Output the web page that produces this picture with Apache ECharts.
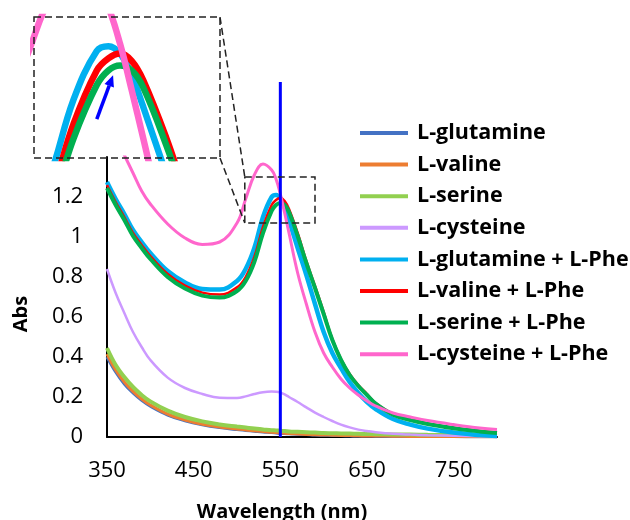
<!DOCTYPE html>
<html>
<head>
<meta charset="utf-8">
<script src="https://cdn.jsdelivr.net/npm/echarts@6/dist/echarts.min.js"></script>
<style>
html,body{margin:0;padding:0;background:#fff;}
#c{width:630px;height:520px;}
</style>
</head>
<body>
<div id="c"></div>
<script>
// ---- data ----
const wavelength = [350,360,370,380,390,400,420,440,460,480,500,510,520,530,540,545,550,555,560,570,580,590,600,610,620,630,640,650,660,680,700,720,750,780,800];

const glutamine = [0.40,0.325,0.265,0.22,0.183,0.154,0.11,0.081,0.061,0.047,0.037,0.033,0.029,0.025,0.022,0.02,0.018,0.017,0.016,0.014,0.012,0.01,0.009,0.008,0.007,0.006,0.005,0.005,0.004,0.003,0.003,0.002,0.002,0.001,0.001];
const valine = [0.415,0.335,0.275,0.228,0.19,0.16,0.115,0.085,0.064,0.05,0.04,0.035,0.031,0.027,0.024,0.022,0.02,0.019,0.017,0.015,0.013,0.011,0.01,0.009,0.008,0.007,0.006,0.005,0.005,0.004,0.003,0.003,0.002,0.001,0.001];
const serine = [0.445,0.36,0.30,0.25,0.21,0.178,0.132,0.10,0.078,0.063,0.052,0.047,0.042,0.038,0.034,0.033,0.031,0.030,0.028,0.026,0.024,0.022,0.020,0.019,0.018,0.017,0.016,0.015,0.014,0.013,0.012,0.011,0.010,0.009,0.008];
const cysteine = [0.84,0.72,0.62,0.525,0.45,0.385,0.297,0.245,0.215,0.196,0.195,0.203,0.215,0.224,0.227,0.226,0.222,0.213,0.20,0.175,0.148,0.122,0.10,0.08,0.062,0.048,0.037,0.03,0.024,0.016,0.012,0.009,0.006,0.004,0.003];
const glutaminePhe = [1.275,1.19,1.115,1.035,0.975,0.92,0.83,0.773,0.74,0.737,0.78,0.84,0.945,1.10,1.20,1.21,1.195,1.15,1.085,0.945,0.81,0.665,0.525,0.42,0.345,0.275,0.22,0.175,0.14,0.09,0.062,0.042,0.022,0.01,0.005];
const valinePhe = [1.26,1.175,1.10,1.02,0.96,0.905,0.815,0.757,0.722,0.712,0.748,0.80,0.90,1.05,1.16,1.185,1.195,1.18,1.14,1.02,0.88,0.755,0.625,0.49,0.39,0.315,0.26,0.215,0.17,0.115,0.088,0.068,0.046,0.03,0.022];
const serinePhe = [1.245,1.16,1.085,1.005,0.945,0.89,0.80,0.742,0.707,0.697,0.73,0.78,0.875,1.02,1.13,1.16,1.17,1.16,1.125,1.005,0.87,0.745,0.615,0.485,0.385,0.31,0.255,0.21,0.167,0.112,0.085,0.065,0.044,0.028,0.02];
const cysteinePhe = [1.60,1.50,1.41,1.32,1.23,1.165,1.065,0.995,0.963,0.975,1.07,1.19,1.31,1.365,1.335,1.29,1.215,1.12,1.02,0.82,0.665,0.525,0.42,0.35,0.29,0.245,0.21,0.18,0.155,0.12,0.10,0.082,0.062,0.045,0.038];

const seriesNames = ['L-glutamine','L-valine','L-serine','L-cysteine','L-glutamine + L-Phe','L-valine + L-Phe','L-serine + L-Phe','L-cysteine + L-Phe'];
const seriesValues = [glutamine, valine, serine, cysteine, glutaminePhe, valinePhe, serinePhe, cysteinePhe];
const seriesColors = ['#4472C4','#ED7D31','#92D050','#CC99FF','#00B0F0','#FF0000','#00B050','#FF66CC'];
const seriesWidths = [3, 3, 4, 2.5, 4.5, 2.5, 4, 3];

const xTickLabels = [350, 450, 550, 650, 750];
const xRange = [350, 800];
const yRange = [0, 1.4];
const yInterval = 0.2;

// vertical marker line
const markerWavelength = 550;
const markerAbs = [0, 1.775];

// zoom box in main plot and the inset view range
const zoomBoxX = [509, 590];
const zoomBoxY = [1.07, 1.30];
const insetX = [513, 593];
const insetY = [0.98, 1.27];
const insetSeries = [4, 5, 6, 7];
const arrowTail = [540, 1.06];
const arrowTip = [547, 1.15];

// ---- chart ----
const FONT = 'Open Sans';
const chart = echarts.init(document.getElementById('c'), null, {renderer: 'canvas'});

const pairs = vals => wavelength.map((w, i) => [w, vals[i]]);

const series = [];
seriesNames.forEach((name, i) => {
  series.push({
    name: name,
    type: 'line',
    xAxisIndex: 0, yAxisIndex: 0,
    data: pairs(seriesValues[i]),
    smooth: 0.4,
    showSymbol: false,
    symbol: 'none',
    lineStyle: {color: seriesColors[i], width: seriesWidths[i]},
    itemStyle: {color: seriesColors[i]},
    z: 2 + i * 0.01,
    silent: true
  });
});
insetSeries.forEach((i) => {
  series.push({
    name: 'inset-' + seriesNames[i],
    type: 'line',
    xAxisIndex: 1, yAxisIndex: 1,
    data: pairs(seriesValues[i]),
    smooth: 0.4,
    showSymbol: false,
    symbol: 'none',
    clip: true,
    lineStyle: {color: seriesColors[i], width: 6.5},
    itemStyle: {color: seriesColors[i]},
    z: 3 + i * 0.01,
    silent: true
  });
});
series.push({
  name: 'marker',
  type: 'line',
  xAxisIndex: 0, yAxisIndex: 0,
  data: markerAbs.map(v => [markerWavelength, v]),
  showSymbol: false,
  symbol: 'none',
  clip: false,
  lineStyle: {color: '#0000FF', width: 3},
  z: 6,
  silent: true
});

const option = {
  animation: false,
  backgroundColor: '#ffffff',
  textStyle: {fontFamily: FONT},
  grid: [
    {left: 107, top: 157, width: 390, height: 280, containLabel: false, outerBoundsMode: 'none'},
    {left: 34, top: 17, width: 186, height: 141, show: true, backgroundColor: '#ffffff', borderWidth: 0, outerBoundsMode: 'none'}
  ],
  legend: {
    data: seriesNames,
    orient: 'vertical',
    left: 355,
    top: 117,
    icon: 'rect',
    itemWidth: 48,
    itemHeight: 4,
    itemGap: 9.6,
    selectedMode: false,
    textStyle: {fontFamily: FONT, fontWeight: 'bold', fontSize: 21.5, lineHeight: 22, color: '#000', padding: [0, 0, 0, 4]}
  },
  xAxis: [
    {
      type: 'value', gridIndex: 0, min: xRange[0], max: xRange[1],
      axisLine: {show: true, lineStyle: {color: '#000', width: 2}},
      axisTick: {show: false},
      splitLine: {show: false},
      axisLabel: {customValues: xTickLabels, fontFamily: FONT, fontSize: 22, color: '#000', margin: 23},
      name: 'Wavelength (nm)',
      nameLocation: 'middle',
      nameGap: 65,
      nameTextStyle: {fontFamily: FONT, fontWeight: 'bold', fontSize: 20, color: '#000', padding: [0, 40, 0, 0]}
    },
    {type: 'value', gridIndex: 1, min: insetX[0], max: insetX[1], show: false, splitLine: {show: false}}
  ],
  yAxis: [
    {
      type: 'value', gridIndex: 0, min: yRange[0], max: yRange[1], interval: yInterval,
      axisLine: {show: true, lineStyle: {color: '#000', width: 2}},
      axisTick: {show: false},
      splitLine: {show: false},
      axisLabel: {fontFamily: FONT, fontSize: 22, color: '#000', margin: 24, showMaxLabel: false},
      name: 'Abs',
      nameLocation: 'middle',
      nameGap: 76,
      nameTextStyle: {fontFamily: FONT, fontWeight: 'bold', fontSize: 20, color: '#000', padding: [0, 34, 0, 0]}
    },
    {type: 'value', gridIndex: 1, min: insetY[0], max: insetY[1], show: false, splitLine: {show: false}}
  ],
  series: series
};
chart.setOption(option);

// ---- decorations placed through the axes' own conversion ----
const px = (g, pt) => chart.convertToPixel({gridIndex: g}, pt);
const bTL = px(0, [zoomBoxX[0], zoomBoxY[1]]);
const bBR = px(0, [zoomBoxX[1], zoomBoxY[0]]);
const iTL = px(1, [insetX[0], insetY[1]]);
const iBR = px(1, [insetX[1], insetY[0]]);
const aT = px(1, arrowTail);
const aH = px(1, arrowTip);
const dashStyle = {stroke: '#222', lineWidth: 1.5, lineDash: [7, 4], fill: null};

const dx = aH[0] - aT[0], dy = aH[1] - aT[1];
const len = Math.sqrt(dx * dx + dy * dy);
const ux = dx / len, uy = dy / len;
const headL = 11, headW = 5;
const base = [aH[0] - ux * headL, aH[1] - uy * headL];

chart.setOption({
  graphic: [
    {type: 'rect', shape: {x: iTL[0], y: iTL[1], width: iBR[0] - iTL[0], height: iBR[1] - iTL[1]}, style: dashStyle, z: 20, silent: true},
    {type: 'rect', shape: {x: bTL[0], y: bTL[1], width: bBR[0] - bTL[0], height: bBR[1] - bTL[1]}, style: dashStyle, z: 20, silent: true},
    {type: 'line', shape: {x1: iBR[0], y1: iTL[1], x2: bTL[0], y2: bTL[1]}, style: dashStyle, z: 20, silent: true},
    {type: 'line', shape: {x1: iBR[0], y1: iBR[1], x2: bTL[0], y2: bBR[1]}, style: dashStyle, z: 20, silent: true},
    {type: 'line', shape: {x1: aT[0], y1: aT[1], x2: base[0], y2: base[1]}, style: {stroke: '#0000FF', lineWidth: 3.5}, z: 21, silent: true},
    {type: 'polygon', shape: {points: [
      [aH[0], aH[1]],
      [base[0] - uy * headW, base[1] + ux * headW],
      [base[0] + uy * headW, base[1] - ux * headW]
    ]}, style: {fill: '#0000FF'}, z: 21, silent: true}
  ]
});
</script>
</body>
</html>
